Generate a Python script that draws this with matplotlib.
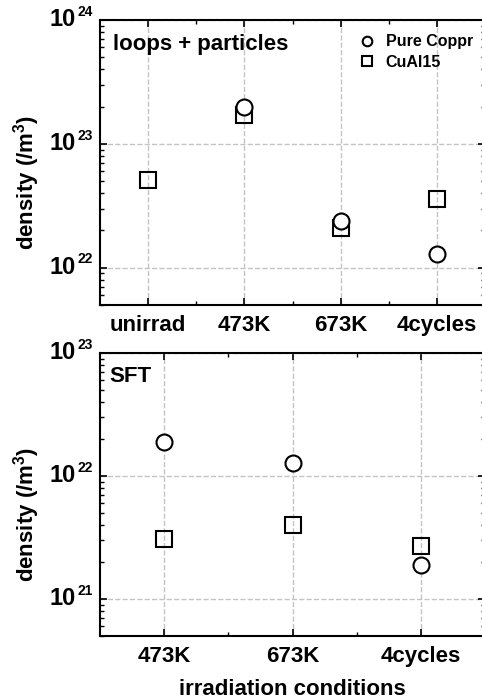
import numpy as np
import matplotlib
matplotlib.use('Agg')
import matplotlib.pyplot as plt
from matplotlib.ticker import LogLocator, FixedLocator, NullFormatter

# dados
cond_loops = ['unirrad', '473K', '673K', '4cycles']
loops_cu = [np.nan, 2.0e23, 2.4e22, 1.3e22]
loops_cual = [5.1e22, 1.7e23, 2.1e22, 3.6e22]

cond_sft = ['473K', '673K', '4cycles']
sft_cu = [1.9e22, 1.28e22, 1.9e21]
sft_cual = [3.05e21, 4.0e21, 2.7e21]

decadas_loops = [22, 23, 24]
decadas_sft = [21, 22, 23]

plt.rcParams['font.family'] = 'Liberation Sans'
plt.rcParams['font.weight'] = 'bold'
plt.rcParams['mathtext.fontset'] = 'custom'
plt.rcParams['mathtext.rm'] = 'Liberation Sans:bold'
plt.rcParams['mathtext.bf'] = 'Liberation Sans:bold'
plt.rcParams['mathtext.it'] = 'Liberation Sans:bold'

fig = plt.figure(figsize=(4.82, 6.99), dpi=100)
ax1 = fig.add_axes([0.2075, 0.5637, 0.799, 0.4077])
ax2 = fig.add_axes([0.2075, 0.0901, 0.799, 0.405])


def estilo(ax, n, ylim, decadas):
    ax.set_yscale('log')
    ax.set_ylim(*ylim)
    ax.set_xlim(0.5, n + 0.5)
    ax.set_xticks(np.arange(1, n + 1))
    ax.xaxis.set_minor_locator(FixedLocator(np.arange(1.5, n, 1)))
    ax.yaxis.set_major_locator(LogLocator(base=10, numticks=10))
    ax.yaxis.set_minor_locator(LogLocator(base=10, subs=np.arange(2, 10), numticks=20))
    ax.yaxis.set_major_formatter(NullFormatter())
    ax.yaxis.set_minor_formatter(NullFormatter())
    ax.tick_params(which='both', direction='in', top=True, right=True, labelsize=16, pad=7)
    ax.tick_params(which='major', length=5, width=1.2)
    ax.tick_params(which='minor', length=3, width=1)
    ax.grid(True, which='major', linestyle='--', color='#c4c4c4', linewidth=1)
    ax.set_axisbelow(True)
    for s in ax.spines.values():
        s.set_linewidth(1.5)
    # rótulos 10^n com expoente pequeno
    for d in decadas:
        ax.annotate('10', xy=(0, 10.0 ** d), xycoords=('axes fraction', 'data'),
                    xytext=(-17.5, 0), textcoords='offset points', ha='right', va='center',
                    fontsize=17, fontweight='bold', annotation_clip=False)
        ax.annotate(str(d), xy=(0, 10.0 ** d), xycoords=('axes fraction', 'data'),
                    xytext=(-5, 6), textcoords='offset points', ha='right', va='center',
                    fontsize=10, fontweight='bold', annotation_clip=False)
    ax.set_ylabel('density (/m$^3$)', fontsize=16, fontweight='bold')
    ax.yaxis.set_label_coords(-0.15, 0.43)


x1 = np.arange(1, len(cond_loops) + 1)
ax1.plot(x1, loops_cu, 'o', ms=11.5, mfc='white', mec='black', mew=1.5, label='Pure Coppr', zorder=4)
ax1.plot(x1, loops_cual, 's', ms=11, mfc='none', mec='black', mew=1.5, label='CuAl15', zorder=3)
estilo(ax1, len(cond_loops), (5e21, 1e24), decadas_loops)
ax1.set_xticklabels(cond_loops)
ax1.text(0.035, 0.915, 'loops + particles', transform=ax1.transAxes, fontsize=16, fontweight='bold', va='center')
leg = ax1.legend(loc='upper left', bbox_to_anchor=(0.63, 1.0), frameon=False, fontsize=11.5,
                 markerscale=0.6, handletextpad=0.6, labelspacing=0.35, handlelength=1.2)

x2 = np.arange(1, len(cond_sft) + 1)
ax2.plot(x2, sft_cu, 'o', ms=11.5, mfc='white', mec='black', mew=1.5, zorder=4)
ax2.plot(x2, sft_cual, 's', ms=11, mfc='none', mec='black', mew=1.5, zorder=3)
estilo(ax2, len(cond_sft), (5e20, 1e23), decadas_sft)
ax2.set_xticklabels(cond_sft)
ax2.text(0.025, 0.915, 'SFT', transform=ax2.transAxes, fontsize=16, fontweight='bold', va='center')
ax2.set_xlabel('irradiation conditions', fontsize=16, fontweight='bold', labelpad=9)

fig.savefig('out.png', dpi=100)
